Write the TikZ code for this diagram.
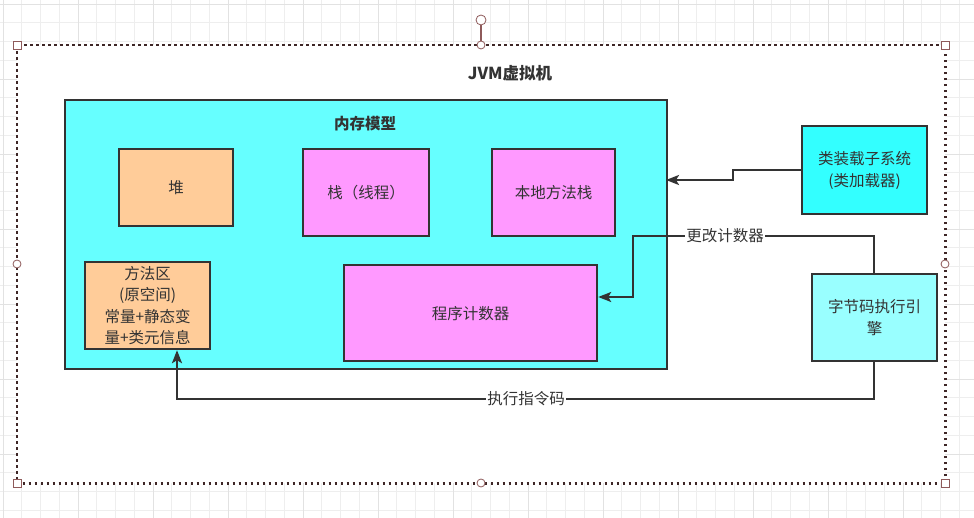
\documentclass[tikz,border=0pt]{standalone}
\usepackage{fontspec}
\setmainfont{Noto Sans CJK SC}
\usetikzlibrary{arrows.meta}
\definecolor{txt}{HTML}{333333}
\definecolor{edge}{HTML}{333333}
\definecolor{memcy}{HTML}{66FFFF}
\definecolor{loadcy}{HTML}{33FFFF}
\definecolor{execcy}{HTML}{99FFFF}
\definecolor{orng}{HTML}{FFCC99}
\definecolor{pnk}{HTML}{FF99FF}
\definecolor{gridc}{HTML}{EEEEEE}
\definecolor{gridm}{HTML}{E2E2E2}
\definecolor{selc}{HTML}{3E2626}
\definecolor{handc}{HTML}{8E5A5A}
\tikzset{
  box/.style={draw=edge, line width=2.2pt, text=txt, align=center, font=\fontsize{15.5}{21}\selectfont},
  conn/.style={draw=edge, line width=2.2pt, -{Stealth[length=13pt,width=10pt,inset=3pt]}},
  lbl/.style={fill=white, text=txt, inner sep=1pt, font=\fontsize{15.5}{19}\selectfont},
  sqhandle/.style={draw=handc, fill=white, line width=0.8pt, minimum size=8pt, inner sep=0pt, rectangle},
  cihandle/.style={draw=handc, fill=white, line width=0.8pt, minimum size=8pt, inner sep=0pt, circle},
}
\begin{document}
\begin{tikzpicture}[x=1pt,y=-1pt]
\useasboundingbox (0,0) rectangle (974,518);
% background grid
\fill[white] (0,0) rectangle (974,518);
\foreach \i in {0,...,52} {
  \pgfmathsetmacro{\gx}{3+18.75*\i}
  \draw[gridc, line width=0.6pt] (\gx,0) -- (\gx,518);
}
\foreach \i in {0,...,28} {
  \pgfmathsetmacro{\gy}{4+18.75*\i}
  \draw[gridc, line width=0.6pt] (0,\gy) -- (974,\gy);
}
\foreach \i in {0,...,13} {
  \pgfmathsetmacro{\gx}{3+75*\i}
  \draw[gridm, line width=0.8pt] (\gx,0) -- (\gx,518);
}
\foreach \i in {0,...,7} {
  \pgfmathsetmacro{\gy}{4+75*\i}
  \draw[gridm, line width=0.8pt] (0,\gy) -- (974,\gy);
}
% group container
\node[fill=white, minimum width=928pt, minimum height=438pt, inner sep=0pt, anchor=north west] (jvm) at (17,45) {};
\draw[selc, line width=2.6pt, dash pattern=on 2.6pt off 3.4pt] (jvm.north west) rectangle (jvm.south east);
\node[text=txt, font=\bfseries\fontsize{16.5}{20}\selectfont] (jvmtitle) at (510,73) {JVM虚拟机};
% memory model container
\node[box, fill=memcy, minimum width=602pt, minimum height=269pt, inner sep=0pt, anchor=north west] (mem) at (64,99) {};
\node[text=txt, font=\bfseries\fontsize{15.5}{19}\selectfont] (memtitle) at (365,124) {内存模型};
% inner boxes
\node[box, fill=orng, minimum width=114pt, minimum height=77pt, inner sep=0pt, anchor=north west] (heap) at (118,148) {堆};
\node[box, fill=pnk, minimum width=126pt, minimum height=87pt, inner sep=0pt, anchor=north west] (stack) at (302,148) {栈（线程）};
\node[box, fill=pnk, minimum width=123pt, minimum height=87pt, inner sep=0pt, anchor=north west] (native) at (491,148) {本地方法栈};
\node[box, fill=orng, minimum width=125pt, minimum height=87pt, inner sep=0pt, anchor=north west] (method) at (84,261) {};
\node[text=txt, align=center, font=\fontsize{15.5}{21.3}\selectfont] (methodtxt) at (method.center) {方法区\\(原空间)\\常量+静态变\\量+类元信息};
\node[box, fill=pnk, minimum width=253pt, minimum height=96pt, inner sep=0pt, anchor=north west] (pc) at (343,264) {程序计数器};
% right boxes
\node[box, fill=loadcy, minimum width=125pt, minimum height=88pt, inner sep=0pt, anchor=north west, font=\fontsize{15.5}{22}\selectfont] (loader) at (801,125) {类装载子系统\\(类加载器)};
\node[box, fill=execcy, minimum width=125pt, minimum height=87pt, inner sep=0pt, anchor=north west, font=\fontsize{15.5}{22}\selectfont] (exec) at (811,273) {字节码执行引\\擎};
% connectors
\coordinate (memin) at (666,180);
\draw[conn] (loader.west |- 0,170) -- (733,170) -- (733,180) -- (memin);
\draw[conn] (exec.north -| 874,0) -- (874,236) -- (633,236) -- (633,297) -- (pc.east |- 0,297);
\node[lbl] (lblpc) at (725,236) {更改计数器};
\draw[conn] (exec.south -| 874,0) -- (874,399) -- (177,399) -- (method.south -| 177,0);
\node[lbl] (lblexec) at (526,399) {执行指令码};
% selection handles
\draw[handc, line width=1.2pt] (481,25) -- (jvm.north -| 481,0);
\node[cihandle, minimum size=10pt] (rot) at (481,20) {};
\node[sqhandle] (h1) at (jvm.north west) {};
\node[sqhandle] (h2) at (jvm.north east) {};
\node[sqhandle] (h3) at (jvm.south west) {};
\node[sqhandle] (h4) at (jvm.south east) {};
\node[cihandle] (h5) at (481,45) {};
\node[cihandle] (h6) at (481,483) {};
\node[cihandle] (h7) at (17,264) {};
\node[cihandle] (h8) at (945,264) {};
\end{tikzpicture}
\end{document}
